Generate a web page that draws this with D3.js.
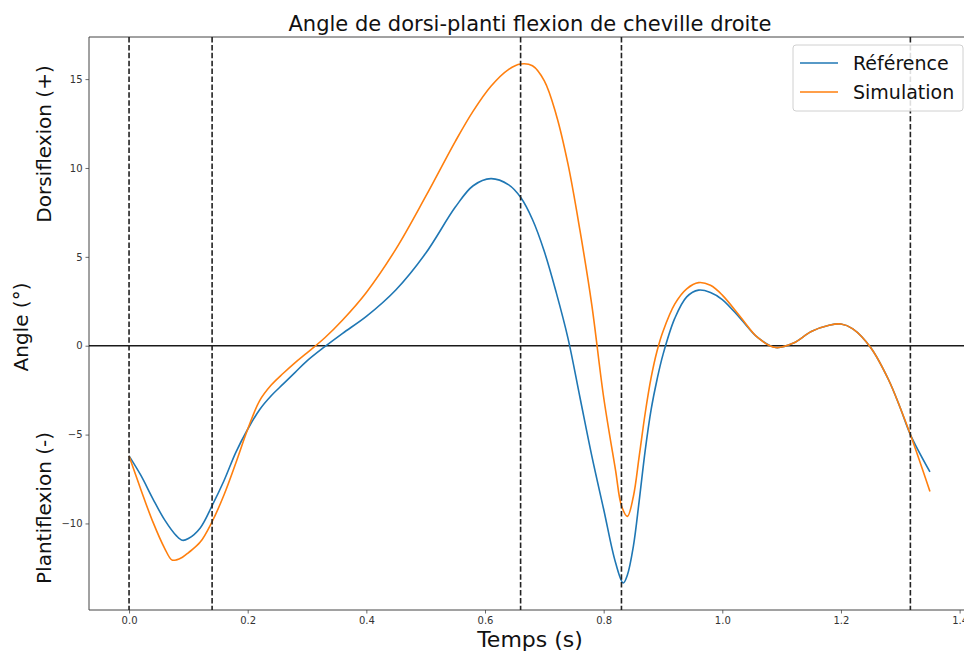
<!DOCTYPE html>
<html>
<head>
<meta charset="utf-8">
<script src="https://cdn.jsdelivr.net/npm/d3@7"></script>
<style>
  html, body { margin: 0; padding: 0; background: #fff; }
  svg { display: block; font-family: "DejaVu Sans", sans-serif; }
</style>
</head>
<body>
<svg id="chart" width="964" height="653"></svg>
<script>
// ---- Data ----
const timeRef = [0, 0.02, 0.04, 0.06, 0.08, 0.09, 0.10, 0.12, 0.14, 0.16, 0.18, 0.20, 0.22, 0.24, 0.26, 0.28, 0.30, 0.33, 0.36, 0.40, 0.45, 0.50, 0.55, 0.58, 0.61, 0.64, 0.66, 0.68, 0.70, 0.72, 0.74, 0.76, 0.78, 0.80, 0.82, 0.833, 0.84, 0.85, 0.86, 0.87, 0.88, 0.89, 0.90, 0.92, 0.94, 0.96, 0.98, 1.00, 1.03, 1.06, 1.09, 1.12, 1.15, 1.18, 1.20, 1.22, 1.25, 1.28, 1.30, 1.317, 1.35];
const reference = [-6.2, -7.3, -8.6, -9.8, -10.7, -10.95, -10.85, -10.25, -9.0, -7.6, -6.0, -4.7, -3.6, -2.8, -2.15, -1.5, -0.85, -0.05, 0.7, 1.65, 3.15, 5.2, 7.8, 9.0, 9.4, 9.05, 8.35, 7.1, 5.3, 3.0, 0.4, -2.9, -6.2, -9.2, -12.2, -13.35, -12.9, -11.3, -8.7, -5.9, -3.6, -1.9, -0.5, 1.55, 2.75, 3.13, 3.0, 2.6, 1.55, 0.45, -0.1, 0.15, 0.8, 1.15, 1.22, 0.95, -0.1, -1.9, -3.5, -5.0, -7.1];

const timeSim = [0, 0.02, 0.04, 0.06, 0.072, 0.08, 0.09, 0.10, 0.12, 0.14, 0.16, 0.18, 0.20, 0.22, 0.24, 0.26, 0.28, 0.30, 0.33, 0.36, 0.40, 0.45, 0.50, 0.55, 0.58, 0.61, 0.64, 0.66, 0.68, 0.70, 0.72, 0.74, 0.76, 0.78, 0.80, 0.82, 0.83, 0.84, 0.85, 0.86, 0.87, 0.88, 0.89, 0.90, 0.92, 0.94, 0.96, 0.98, 1.00, 1.03, 1.06, 1.09, 1.12, 1.15, 1.18, 1.20, 1.22, 1.25, 1.28, 1.30, 1.317, 1.35];
const simulation = [-6.2, -8.1, -9.9, -11.4, -12.05, -12.05, -11.9, -11.65, -11.05, -9.9, -8.4, -6.6, -4.7, -3.1, -2.2, -1.55, -0.95, -0.4, 0.45, 1.45, 3.0, 5.45, 8.4, 11.5, 13.2, 14.6, 15.55, 15.85, 15.75, 14.9, 13.0, 10.2, 6.5, 2.3, -2.9, -7.0, -9.0, -9.6, -8.5, -6.2, -3.8, -1.8, -0.3, 0.8, 2.35, 3.2, 3.55, 3.4, 2.85, 1.65, 0.45, -0.1, 0.15, 0.8, 1.15, 1.22, 0.95, -0.1, -1.9, -3.5, -5.0, -8.2];

const eventTimes = [0, 0.14, 0.66, 0.83, 1.317];
const xTicks = [0.0, 0.2, 0.4, 0.6, 0.8, 1.0, 1.2, 1.4];
const yTicks = [-10, -5, 0, 5, 10, 15];
const seriesNames = ["Référence", "Simulation"];
const seriesColors = ["#1f77b4", "#ff7f0e"];

// ---- Layout ----
const svg = d3.select("#chart");
const plot = { left: 89, top: 37, right: 970, bottom: 610 };

const x = d3.scaleLinear().domain([-0.0675, 1.4175]).range([plot.left, plot.right]);
const y = d3.scaleLinear().domain([-14.87, 17.37]).range([plot.bottom, plot.top]);

// Axes
const xAxis = d3.axisBottom(x).tickValues(xTicks).tickFormat(d3.format(".1f")).tickSize(3.5).tickPadding(3);
const yAxis = d3.axisLeft(y).tickValues(yTicks).tickFormat(d => d < 0 ? "\u2212" + Math.abs(d) : d).tickSize(3.5).tickPadding(3);

const gx = svg.append("g").attr("transform", `translate(0,${plot.bottom})`).call(xAxis);
const gy = svg.append("g").attr("transform", `translate(${plot.left},0)`).call(yAxis);
[gx, gy].forEach(g => {
  g.select(".domain").remove();
  g.selectAll(".tick line").attr("stroke", "#444").attr("stroke-width", 0.8);
  g.selectAll(".tick text").attr("fill", "#333").style("font-size", "10px").style("font-family", "DejaVu Sans, sans-serif");
});

// Spines (right one falls outside the picture)
svg.append("line").attr("x1", plot.left).attr("x2", plot.right).attr("y1", plot.top).attr("y2", plot.top).attr("stroke", "#444").attr("stroke-width", 1);
svg.append("line").attr("x1", plot.left).attr("x2", plot.right).attr("y1", plot.bottom).attr("y2", plot.bottom).attr("stroke", "#444").attr("stroke-width", 1);
svg.append("line").attr("x1", plot.left).attr("x2", plot.left).attr("y1", plot.top).attr("y2", plot.bottom).attr("stroke", "#444").attr("stroke-width", 1);
svg.append("line").attr("x1", plot.right).attr("x2", plot.right).attr("y1", plot.top).attr("y2", plot.bottom).attr("stroke", "#444").attr("stroke-width", 1);

// Zero line
svg.append("line")
  .attr("x1", plot.left).attr("x2", plot.right)
  .attr("y1", y(0)).attr("y2", y(0))
  .attr("stroke", "#1a1a1a").attr("stroke-width", 1.6);

// Curves
const line = d3.line().x(d => x(d[0])).y(d => y(d[1])).curve(d3.curveCatmullRom.alpha(0.5));
const refData = timeRef.map((t, i) => [t, reference[i]]);
const simData = timeSim.map((t, i) => [t, simulation[i]]);

svg.append("path").datum(refData).attr("d", line)
  .attr("fill", "none").attr("stroke", seriesColors[0]).attr("stroke-width", 1.6);
svg.append("path").datum(simData).attr("d", line)
  .attr("fill", "none").attr("stroke", seriesColors[1]).attr("stroke-width", 1.6);

// Event dashed lines
svg.selectAll(".event").data(eventTimes).enter().append("line")
  .attr("class", "event")
  .attr("x1", d => x(d)).attr("x2", d => x(d))
  .attr("y1", plot.top).attr("y2", plot.bottom)
  .attr("stroke", "#222").attr("stroke-width", 1.6)
  .attr("stroke-dasharray", "5.5,2.4");

// Title
svg.append("text")
  .attr("x", 530).attr("y", 31)
  .attr("text-anchor", "middle")
  .attr("fill", "#111")
  .style("font-size", "21px")
  .text("Angle de dorsi-planti flexion de cheville droite");

// X label
svg.append("text")
  .attr("x", 530).attr("y", 647)
  .attr("text-anchor", "middle")
  .attr("fill", "#111")
  .style("font-size", "22px")
  .text("Temps (s)");

// Y labels
function yLabel(text, cx, cy) {
  svg.append("text")
    .attr("transform", `translate(${cx},${cy}) rotate(-90)`)
    .attr("text-anchor", "middle")
    .attr("dominant-baseline", "central")
    .attr("fill", "#111")
    .style("font-size", "20px")
    .text(text);
}
yLabel("Angle (°)", 21, 327);
yLabel("Dorsiflexion (+)", 44, 144);
yLabel("Plantiflexion (-)", 44, 508);

// Legend
const lg = svg.append("g");
lg.append("rect")
  .attr("x", 793).attr("y", 45).attr("width", 170).attr("height", 66)
  .attr("rx", 3).attr("ry", 3)
  .attr("fill", "#fff").attr("fill-opacity", 0.85)
  .attr("stroke", "#d0d0d0").attr("stroke-width", 1);
seriesNames.forEach((name, i) => {
  const yy = 63 + i * 29;
  lg.append("line").attr("x1", 800).attr("x2", 838).attr("y1", yy).attr("y2", yy)
    .attr("stroke", seriesColors[i]).attr("stroke-width", 1.6);
  lg.append("text").attr("x", 853).attr("y", yy)
    .attr("dominant-baseline", "central")
    .attr("fill", "#111")
    .style("font-size", "19px")
    .text(name);
});
</script>
</body>
</html>
